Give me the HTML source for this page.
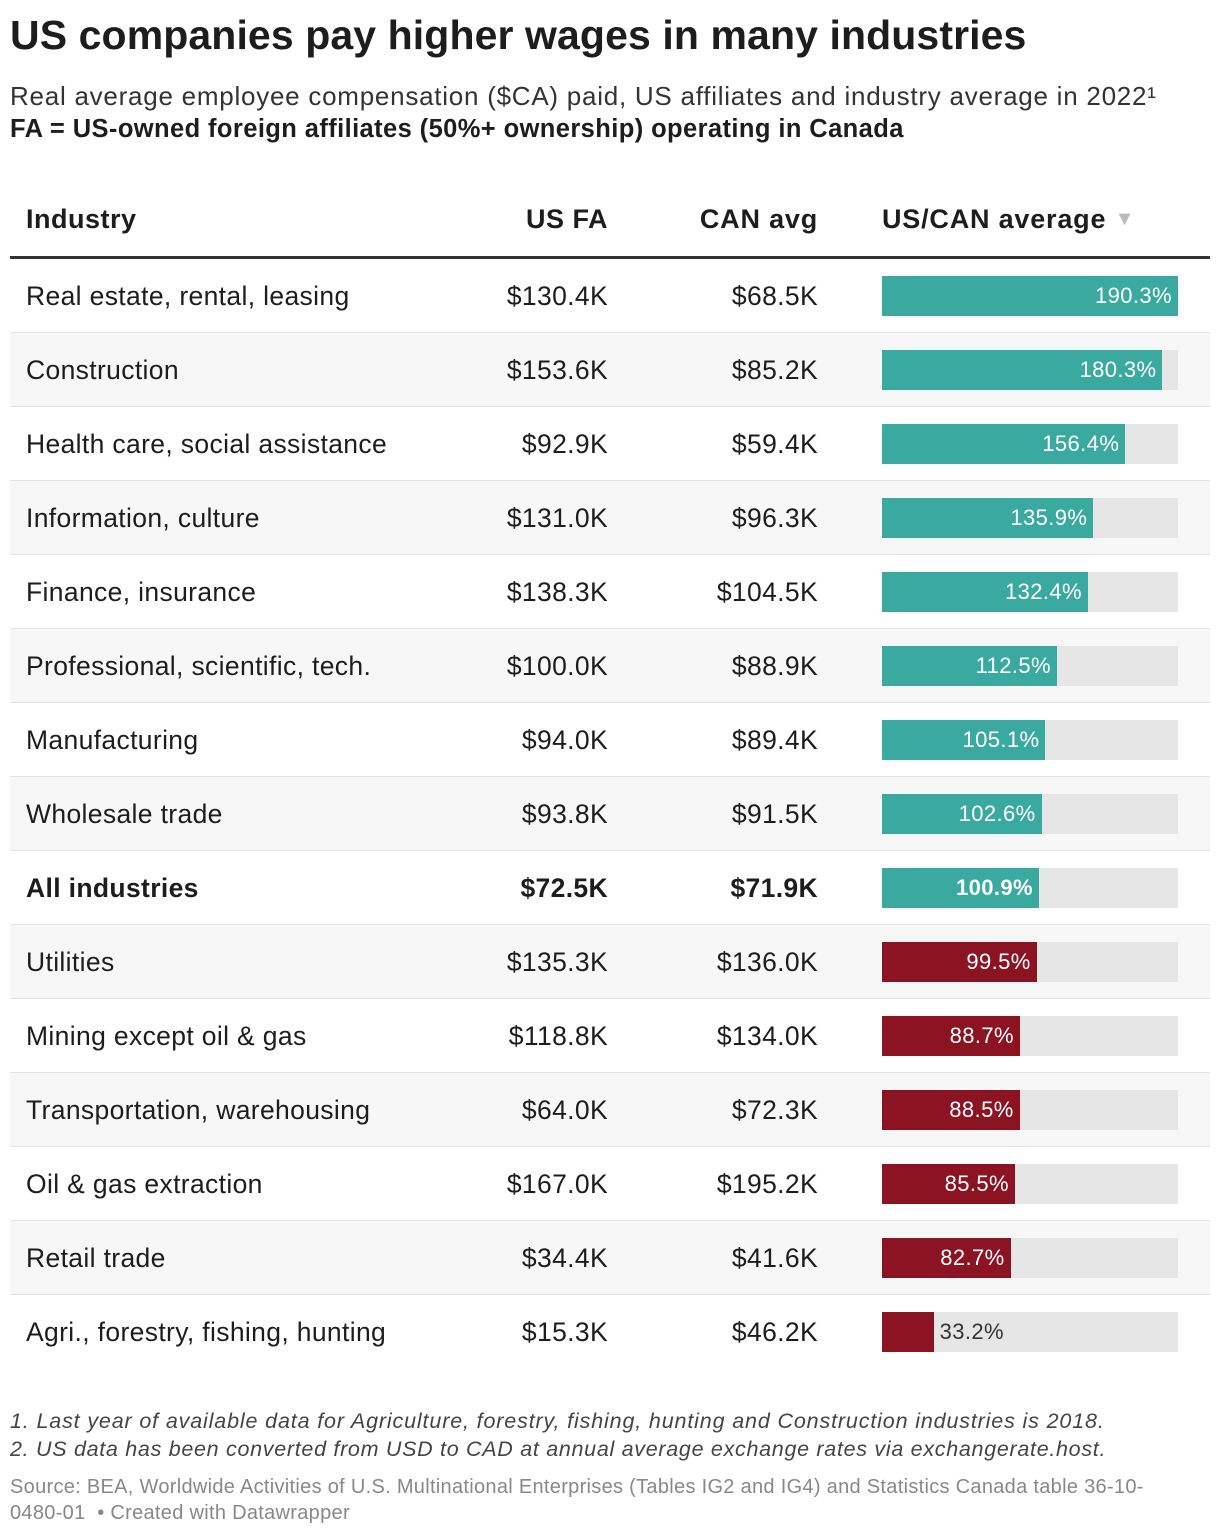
<!DOCTYPE html>
<html><head><meta charset="utf-8"><style>
body{margin:0;width:1220px;height:1536px;background:#fff;font-family:"Liberation Sans",Arial,sans-serif;color:#1d1d1d;position:relative;overflow:hidden}
.a{position:absolute;white-space:nowrap}
</style></head><body>
<div class="a" style="left:10px;top:12px;font-size:41px;font-weight:bold;letter-spacing:0.1px">US companies pay higher wages in many industries</div>
<div class="a" style="left:10px;top:81px;font-size:26px;color:#333;letter-spacing:0.75px">Real average employee compensation ($CA) paid, US affiliates and industry average in 2022¹</div>
<div class="a" style="left:10px;top:115px;font-size:25.5px;font-weight:bold;letter-spacing:0.4px">FA = US-owned foreign affiliates (50%+ ownership) operating in Canada</div>
<div class="a" style="left:26px;top:204px;font-size:27px;font-weight:bold;letter-spacing:0.5px">Industry</div>
<div class="a" style="right:612px;top:204px;font-size:27px;font-weight:bold;letter-spacing:0.5px">US FA</div>
<div class="a" style="right:402px;top:204px;font-size:27px;font-weight:bold;letter-spacing:0.8px">CAN avg</div>
<div class="a" style="left:882px;top:204px;font-size:27px;font-weight:bold;letter-spacing:0.8px">US/CAN average <span style="color:#bbb;font-size:20px;vertical-align:3px">▼</span></div>
<div class="a" style="left:10px;top:256px;width:1200px;height:3px;background:#333"></div>
<div id="rows"></div>
<div class="a" style="left:10px;top:1409px;font-size:21.5px;font-style:italic;color:#444;letter-spacing:0.85px">1. Last year of available data for Agriculture, forestry, fishing, hunting and Construction industries is 2018.</div>
<div class="a" style="left:10px;top:1437px;font-size:21.5px;font-style:italic;color:#444;letter-spacing:0.7px">2. US data has been converted from USD to CAD at annual average exchange rates via exchangerate.host.</div>
<div class="a" style="left:10px;top:1474px;font-size:20px;color:#888;line-height:26px;letter-spacing:0.3px">Source: BEA, Worldwide Activities of U.S. Multinational Enterprises (Tables IG2 and IG4) and Statistics Canada table 36-10-<br>0480-01 &nbsp;• Created with Datawrapper</div>
<script>
const industries=["Real estate, rental, leasing","Construction","Health care, social assistance","Information, culture","Finance, insurance","Professional, scientific, tech.","Manufacturing","Wholesale trade","All industries","Utilities","Mining except oil & gas","Transportation, warehousing","Oil & gas extraction","Retail trade","Agri., forestry, fishing, hunting"];
const usFA=["$130.4K","$153.6K","$92.9K","$131.0K","$138.3K","$100.0K","$94.0K","$93.8K","$72.5K","$135.3K","$118.8K","$64.0K","$167.0K","$34.4K","$15.3K"];
const canAvg=["$68.5K","$85.2K","$59.4K","$96.3K","$104.5K","$88.9K","$89.4K","$91.5K","$71.9K","$136.0K","$134.0K","$72.3K","$195.2K","$41.6K","$46.2K"];
const ratio=[190.3,180.3,156.4,135.9,132.4,112.5,105.1,102.6,100.9,99.5,88.7,88.5,85.5,82.7,33.2];
const maxR=Math.max(...ratio);
const x=v=>v/maxR*296;
const c=document.getElementById('rows');
industries.forEach((name,i)=>{
  const top=259+i*74, bold=name==="All industries"?"bold":"normal";
  const last=i===industries.length-1;
  const r=document.createElement('div');
  r.className='a';
  
  
  r.style.cssText=`left:10px;top:${top}px;width:1200px;height:73px;background:${i%2?'#f7f7f7':'#fff'};border-bottom:1px solid ${last?'#fff':'#e2e2e2'}`;
  c.appendChild(r);
  const mk=(t,css)=>{const d=document.createElement('div');d.className='a';d.textContent=t;d.style.cssText=css+`;top:${top+22}px;font-size:26.5px;letter-spacing:0.35px;font-weight:${bold}`;c.appendChild(d);return d;};
  const n=mk(name,'left:26px');
  
  
  const u=mk(usFA[i],'right:612px');
  
  
  const ca=mk(canAvg[i],'right:402px');
  
  
  const bg=document.createElement('div');bg.className='a';
  
  
  bg.style.cssText=`left:882px;top:${top+17}px;width:296px;height:40px;background:#e6e6e6`;c.appendChild(bg);
  const w=x(ratio[i]);const col=ratio[i]>=100?'#3aa99f':'#8c1322';
  const b=document.createElement('div');b.className='a';
  
  
  b.style.cssText=`left:882px;top:${top+17}px;width:${w}px;height:40px;background:${col}`;c.appendChild(b);
  const l=document.createElement('div');l.className='a';l.textContent=ratio[i].toFixed(1)+'%';
  
  
  const inside=w>80;
  l.style.cssText=`top:${top+24}px;font-size:22px;letter-spacing:0.4px;font-weight:${bold};color:${inside?'#fff':'#333'};`+(inside?`right:${1220-882-w+6}px`:`left:${882+w+6}px`);
  c.appendChild(l);
});
</script>
</body></html>
